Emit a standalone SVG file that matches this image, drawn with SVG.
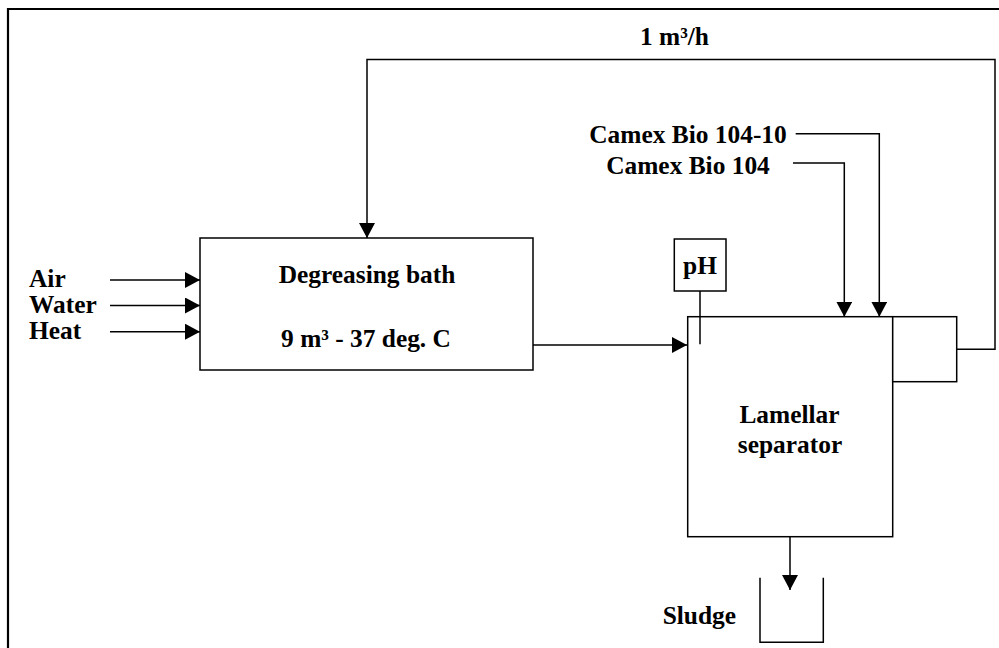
<svg xmlns="http://www.w3.org/2000/svg" width="999" height="648" viewBox="0 0 999 648">
<style>
.box{fill:#fff;stroke:#000;stroke-width:1.5}
.ln{fill:none;stroke:#000;stroke-width:1.5}
.arr{fill:none;stroke:#000;stroke-width:1.5;marker-end:url(#ah)}
text{font-family:"Liberation Serif","Times New Roman",serif;font-weight:bold;font-size:25.4px;fill:#000}
.m{text-anchor:middle}
</style>
<defs>
<marker id="ah" markerUnits="userSpaceOnUse" markerWidth="16" markerHeight="17" refX="15" refY="8" orient="auto" viewBox="0 0 16 17">
<path d="M0,0 L15,8 L0,16 z" fill="#000"/>
</marker>
</defs>
<rect width="999" height="648" fill="#fff"/>
<path d="M8,650 V9 H1000" fill="none" stroke="#000" stroke-width="2.2"/>

<g id="degreasing-bath">
<rect class="box" x="200" y="238" width="333" height="132"/>
<text class="m" x="367" y="283">Degreasing bath</text>
<text class="m" x="366" y="347">9 m³ - 37 deg. C</text>
</g>

<g id="lamellar-separator">
<rect class="box" x="687.7" y="316.7" width="205" height="220"/>
<text class="m" x="789.5" y="423.3">Lamellar</text>
<text class="m" x="790" y="452.7">separator</text>
</g>

<g id="overflow-box">
<rect class="box" x="892.7" y="316.7" width="64" height="65"/>
</g>

<g id="ph-probe">
<rect class="box" x="674.3" y="239" width="51.7" height="52"/>
<text class="m" x="700" y="274">pH</text>
<line class="ln" x1="700" y1="291" x2="700" y2="344.3"/>
</g>

<g id="sludge">
<path class="ln" d="M760,577.7 V642.3 H823.3 V577.7"/>
<text x="662.7" y="624.3">Sludge</text>
</g>

<g id="inputs">
<text x="29" y="287.3">Air</text>
<text x="29" y="313.3">Water</text>
<text x="29" y="339">Heat</text>
</g>

<g id="chemicals">
<text class="m" x="688" y="143.3">Camex Bio 104-10</text>
<text class="m" x="688" y="174">Camex Bio 104</text>
</g>

<g id="flow-label">
<text class="m" x="674.5" y="45">1 m³/h</text>
</g>

<g id="connectors">
<line class="arr" x1="110" y1="280" x2="200" y2="280"/>
<line class="arr" x1="110" y1="305.5" x2="200" y2="305.5"/>
<line class="arr" x1="110" y1="331.7" x2="200" y2="331.7"/>
<line class="arr" x1="533" y1="345" x2="687" y2="345"/>
<path class="arr" d="M956.7,349.3 H995 V59.5 H367 V238"/>
<path class="arr" d="M795.7,133.7 H879.3 V316.7"/>
<path class="arr" d="M793,163 H844.3 V316.7"/>
<line class="arr" x1="790" y1="536.7" x2="790" y2="590"/>
</g>
</svg>
